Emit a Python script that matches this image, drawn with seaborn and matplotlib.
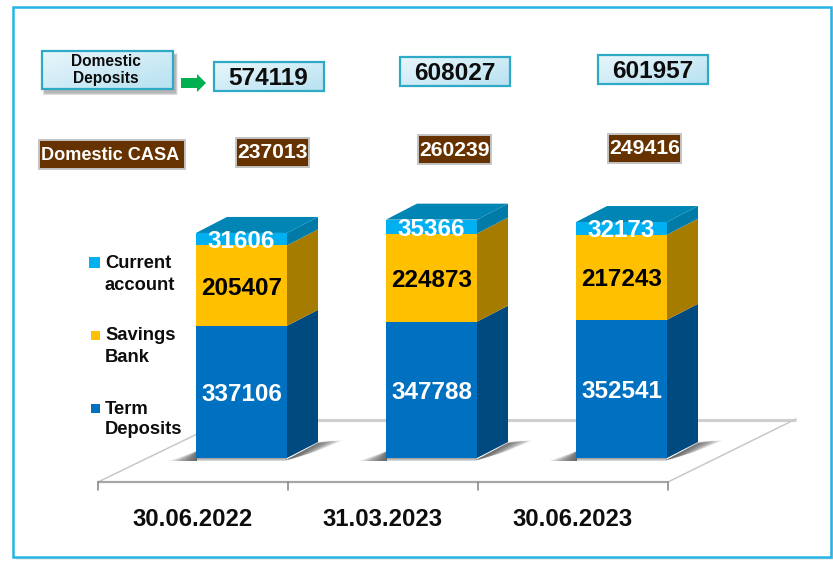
import numpy as np
import pandas as pd
import matplotlib
matplotlib.use("Agg")
import matplotlib.pyplot as plt
from matplotlib.patches import Polygon, Rectangle
import seaborn as sns

dates = ["30.06.2022", "31.03.2023", "30.06.2023"]
term = [337106, 347788, 352541]
savings = [205407, 224873, 217243]
current = [31606, 35366, 32173]
domestic = [574119, 608027, 601957]
casa = [237013, 260239, 249416]

sns.set_theme(style="white")
plt.rcParams["font.family"] = ["Liberation Sans", "DejaVu Sans"]

W, H = 833, 563
fig = plt.figure(figsize=(W / 100, H / 100), dpi=100, facecolor="white")


def px_axes(z):
    a = fig.add_axes([0, 0, 1, 1], zorder=z)
    a.set_xlim(0, W)
    a.set_ylim(H, 0)
    a.axis("off")
    a.patch.set_alpha(0)
    return a


back = px_axes(0)
front = px_axes(2)
ax = fig.add_axes([0, 0, 1, 1], zorder=1)
ax.patch.set_alpha(0)

# outer frame
for g, al in [(3.0, 0.25), (2.0, 0.35), (1.0, 0.45)]:
    back.add_patch(Rectangle((13 + g, 7 + g), 818, 550, fc="#bfbfbf", ec="none", alpha=al))
back.add_patch(Rectangle((13, 7), 818, 550, fc="white", ec="#25b4e6", lw=1.8))

# floor
back.plot([226, 796], [420, 420], color="#cfcfcf", lw=2.2, solid_capstyle="butt")
back.plot([98, 226], [482, 420], color="#c8c8c8", lw=1.1)
back.plot([668, 796], [482, 419], color="#c8c8c8", lw=1.1)
back.plot([98, 668], [482, 482], color="#a6a6a6", lw=1.6)
for tx in [98, 288, 478, 668]:
    back.plot([tx, tx], [482, 490], color="#8c8c8c", lw=1.2)

# bar shadows on the floor
for i in range(len(dates)):
    x0 = 196 + 190 * i
    xr = x0 + 91
    for k in np.linspace(0.04, 1, 24):
        back.add_patch(Polygon([(x0 + 1, 451), (x0 + 1, 461), (x0 - 27 * k, 461)],
                               fc="#404040", ec="none", alpha=0.055))
        back.add_patch(Polygon([(xr - 1, 460), (xr + 31, 443), (xr + 31 + 25 * k, 440.5),
                                (xr + 30 * k, 461 - 10 * k)],
                               fc="#404040", ec="none", alpha=0.055))
    for g in range(1, 5):
        back.add_patch(Rectangle((x0, 457), 91, g, fc="#555555", ec="none", alpha=0.22))

# main chart: px_x = 241.5 + 190 * x, px_y = 458 - v * SCALE
SCALE = 0.000392
BAR_W = 91 / 190
DX, DY = 31 / 190, 16 / SCALE
c1 = np.array(term)
c2 = c1 + np.array(savings)
c3 = c2 + np.array(current)
df = pd.DataFrame({"date": dates, "term": c1, "sav": c2, "cur": c3})
for col, colr in [("cur", "#00b0f0"), ("sav", "#ffc000"), ("term", "#0070c0")]:
    sns.barplot(data=df, x="date", y=col, color=colr, width=BAR_W, saturation=1,
                errorbar=None, ax=ax, linewidth=0, zorder=3)

for i in range(len(dates)):
    r = i + BAR_W / 2
    l = i - BAR_W / 2
    for lo, hi, colr in [(0, c1[i], "#004a7f"), (c1[i], c2[i], "#a67c00"),
                         (c2[i], c3[i], "#007aa6")]:
        ax.add_patch(Polygon([(r, lo), (r + DX, lo + DY), (r + DX, hi + DY), (r, hi)],
                             fc=colr, ec="none", zorder=2))
    ax.add_patch(Polygon([(l, c3[i]), (r, c3[i]), (r + DX, c3[i] + DY), (l + DX, c3[i] + DY)],
                         fc="#0085b5", ec="none", zorder=2))
    nudge = 2.6 / SCALE
    for lo, v, tc in [(0, term[i], "white"), (c1[i], savings[i], "black"),
                      (c2[i], current[i], "white")]:
        ax.text(i, lo + v / 2 - nudge, str(v), ha="center", va="center",
                color=tc, fontsize=17.5, fontweight="bold", zorder=5)

ax.set_xlim(-241.5 / 190, (W - 241.5) / 190)
ax.set_ylim((458 - H) / SCALE, 458 / SCALE)
ax.axis("off")

# date labels
for i, d in enumerate(dates):
    front.text(192.5 + 190 * i, 519, d, ha="center", va="center", color="#0d0d0d",
               fontsize=17.2, fontweight="bold")

# legend
LEG = [("#00b0f0", (89, 257, 11), ["Current", "account"], [264, 285]),
       ("#ffc000", (91, 331, 9), ["Savings", "Bank"], [336, 357]),
       ("#0070c0", (91, 404, 9), ["Term", "Deposits"], [409, 430])]
for colr, (sx, sy, ss), lines, ys in LEG:
    front.add_patch(Rectangle((sx, sy), ss, ss, fc=colr, ec="none"))
    for t, y in zip(lines, ys):
        front.text(105, y, t, ha="left", va="center", color="#0d0d0d",
                   fontsize=13.2, fontweight="bold")


def grad_box(x0, y0, x1, y1, shadow=False):
    if shadow:
        for g in range(5):
            front.add_patch(Rectangle((x0 + 3 - g * 0.5, y0 + 4 - g * 0.5),
                                      x1 - x0 + g, y1 - y0 + g,
                                      fc="#555555", ec="none", alpha=0.1, zorder=1))
    u, v = np.meshgrid(np.linspace(0, 1, 40), np.linspace(0, 1, 40))
    t = ((u + v) / 2)[..., None]
    img = (1 - t) * np.array([0.91, 0.965, 0.985]) + t * np.array([0.72, 0.885, 0.945])
    front.imshow(img, extent=(x0, x1, y1, y0), aspect="auto", interpolation="bilinear", zorder=2)
    front.add_patch(Rectangle((x0, y0), x1 - x0, y1 - y0, fc="none", ec="#2ea9c6", lw=1.6, zorder=3))


def brown_box(x0, y0, x1, y1, label, fs, shift=0):
    front.add_patch(Rectangle((x0, y0), x1 - x0, y1 - y0, fc="#663300", ec="#c4c4c4", lw=1.4))
    front.text((x0 + x1) / 2 + shift, (y0 + y1) / 2 + 0.5, label, ha="center", va="center",
               color="white", fontsize=fs, fontweight="bold")


# header boxes
grad_box(42, 51, 173, 89, shadow=True)
front.text(106, 61, "Domestic", ha="center", va="center", color="#0d0d0d",
           fontsize=11.2, fontweight="bold", zorder=4)
front.text(106, 79, "Deposits", ha="center", va="center", color="#0d0d0d",
           fontsize=11.2, fontweight="bold", zorder=4)
front.add_patch(Polygon([(181, 78), (197, 78), (197, 74), (206, 83), (197, 92), (197, 88), (181, 88)],
                        fc="#00b050", ec="none"))

DOM_BOX = [(214, 62), (400, 57), (598, 55)]
for (bx, by), v in zip(DOM_BOX, domestic):
    grad_box(bx, by, bx + 110, by + 29)
    front.text(bx + 54.5, by + 16.5, str(v), ha="center", va="center", color="#0d0d0d",
               fontsize=17.6, fontweight="bold", zorder=4)

brown_box(39, 140, 185, 169, "Domestic CASA", 13.1, shift=-1.5)
CASA_BOX = [(236, 138), (418, 135), (608, 134)]
for (bx, by), v in zip(CASA_BOX, casa):
    brown_box(bx, by, bx + 73, by + 29, str(v), 15.2)

front.set_xlim(0, W)
front.set_ylim(H, 0)
fig.savefig("out.png", dpi=100)
